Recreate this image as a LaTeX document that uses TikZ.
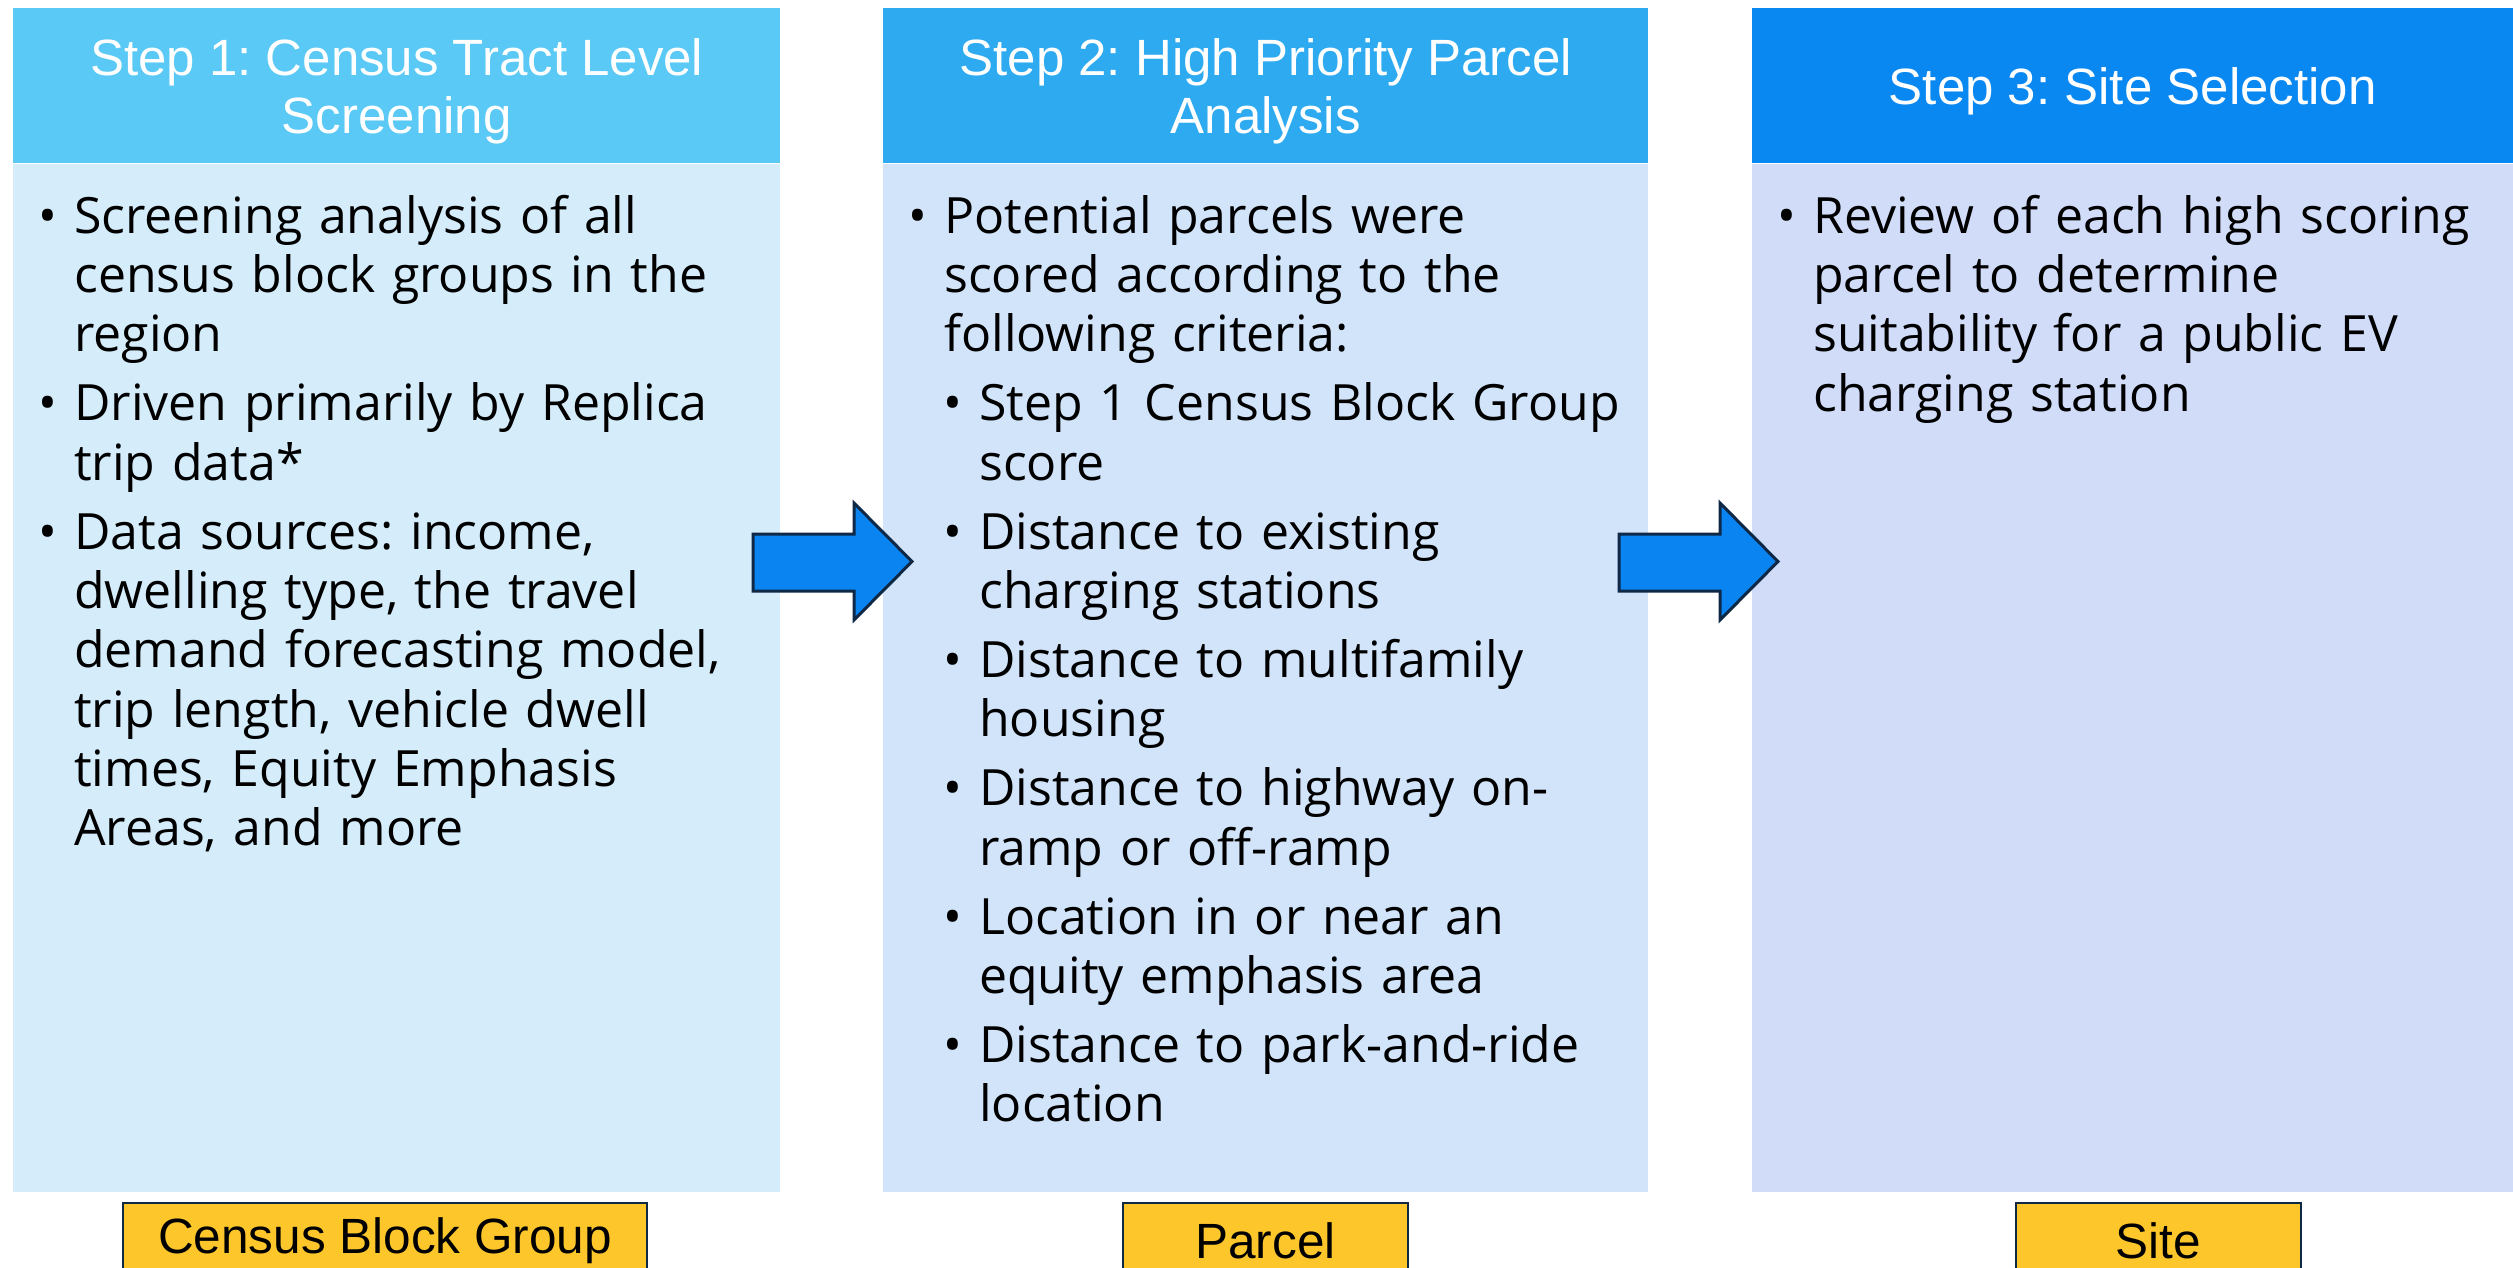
\documentclass[tikz,border=0pt]{standalone}
\usepackage{fontspec}
\usepackage{enumitem}
\usepackage{xcolor}
\setmainfont{Open Sans}
\newfontfamily\headfont{Liberation Sans}
\usetikzlibrary{positioning}

\definecolor{headone}{HTML}{5BC9F5}
\definecolor{headtwo}{HTML}{2EAAF1}
\definecolor{headthree}{HTML}{0A88F2}
\definecolor{bodyone}{HTML}{D5ECFA}
\definecolor{bodytwo}{HTML}{D2E4F9}
\definecolor{bodythree}{HTML}{D1DCF8}
\definecolor{arrowblue}{HTML}{0984F0}
\definecolor{navy}{HTML}{0E2846}
\definecolor{tagyellow}{HTML}{FDC62A}

\frenchspacing
\setlist[itemize]{label=\textbullet, leftmargin=34pt, labelsep=17pt,
  topsep=0pt, itemsep=9.7pt, parsep=0pt, partopsep=0pt}
\setlist[itemize,2]{leftmargin=35pt, topsep=9.7pt}

\tikzset{
  stephead/.style={fill=#1, minimum width=767pt, minimum height=155pt,
    inner sep=0pt, anchor=north west, text=white, align=center,
    text depth=0pt, font=\headfont\fontsize{51}{58}\selectfont},
  panel/.style={fill=#1, minimum width=767pt, minimum height=1028pt,
    inner sep=0pt},
  steptext/.style={anchor=base west, inner sep=0pt, text width=800pt,
    font=\fontsize{50}{59.3}\selectfont, align=left},
  tag/.style={fill=tagyellow, draw=navy, line width=2pt, anchor=north,
    minimum height=76pt, inner sep=0pt,
    font=\headfont\fontsize{49.5}{55}\selectfont},
  bigarrow/.style={fill=arrowblue, draw=navy, line width=3pt,
    line join=miter}
}

\begin{document}
\begin{tikzpicture}[x=1pt,y=-1pt]
\useasboundingbox (0,0) rectangle (2513,1267);
\clip (0,0) rectangle (2513,1267);

% step 1
\node[stephead=headone] (head1) at (13,8) {Step 1: Census Tract Level\\Screening};
\node[panel=bodyone, below=0pt of head1] (body1) {};
\node[steptext] (text1) at (40,174) {%
\begin{itemize}
\item Screening analysis of all\\census block groups in the\\region
\item Driven primarily by Replica\\trip data*
\item Data sources: income,\\dwelling type, the travel\\demand forecasting model,\\trip length, vehicle dwell\\times, Equity Emphasis\\Areas, and more
\end{itemize}};

% step 2
\node[stephead=headtwo, minimum width=765pt] (head2) at (883,8) {Step 2: High Priority Parcel\\Analysis};
\node[panel=bodytwo, minimum width=765pt, below=0pt of head2] (body2) {};
\node[steptext] (text2) at (910,174) {%
\begin{itemize}
\item Potential parcels were\\scored according to the\\following criteria:
  \begin{itemize}
  \item Step 1 Census Block Group\\score
  \item Distance to existing\\charging stations
  \item Distance to multifamily\\housing
  \item Distance to highway on-\\ramp or off-ramp
  \item Location in or near an\\equity emphasis area
  \item Distance to park-and-ride\\location
  \end{itemize}
\end{itemize}};

% step 3
\node[stephead=headthree, minimum width=761pt] (head3) at (1752,8) {Step 3: Site Selection};
\node[panel=bodythree, minimum width=761pt, below=0pt of head3] (body3) {};
\node[steptext] (text3) at (1779,174) {%
\begin{itemize}
\item Review of each high scoring\\parcel to determine\\suitability for a public EV\\charging station
\end{itemize}};

% arrows between the steps
\foreach \ax in {753,1619}
  \draw[bigarrow, shift={(\ax,0)}] (0,534) -- (101,534) -- (101,503)
    -- (159,561.5) -- (101,620) -- (101,591) -- (0,591) -- cycle;

% scale of each step
\node[tag, minimum width=524pt] (tag1) at (385,1202) {Census Block Group};
\node[tag, minimum width=285pt] (tag2) at (1265.5,1202) {Parcel};
\node[tag, minimum width=285pt] (tag3) at (2158.5,1202) {Site};
\end{tikzpicture}
\end{document}
